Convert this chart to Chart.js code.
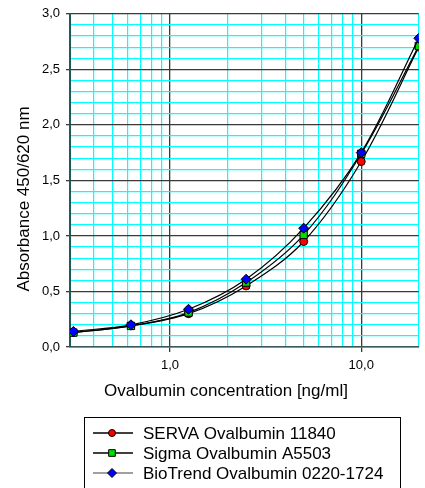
<!DOCTYPE html>
<html>
<head>
<meta charset="utf-8">
<script src="https://cdn.jsdelivr.net/npm/chart.js@4/dist/chart.umd.min.js"></script>
<style>
html,body{margin:0;padding:0;background:#fff;}
canvas{display:block;}
</style>
</head>
<body>
<canvas id="c" width="425" height="488"></canvas>
<script>
// ---- data ----
const concentrations = [0.3125, 0.625, 1.25, 2.5, 5, 10, 20];
const servaValues    = [0.13, 0.19, 0.30, 0.55, 0.95, 1.67, 2.70];
const sigmaValues    = [0.13, 0.19, 0.31, 0.58, 1.01, 1.74, 2.71];
const biotrendValues = [0.14, 0.20, 0.34, 0.61, 1.07, 1.75, 2.78];
const seriesNames = ['SERVA Ovalbumin 11840', 'Sigma Ovalbumin A5503', 'BioTrend Ovalbumin 0220-1724'];
const xTickValues = [0.3,0.4,0.5,0.6,0.7,0.8,0.9,1,2,3,4,5,6,7,8,9,10,20];
const xMajorLabels = {1:'1,0', 10:'10,0'};
const yMajorLabels = ['0,0','0,5','1,0','1,5','2,0','2,5','3,0'];
const xTitle = 'Ovalbumin concentration [ng/ml]';
const yTitle = 'Absorbance 450/620 nm';

const FONT = "'Liberation Sans', Arial, sans-serif";
const CYAN = '#00ffff';
const MAJOR = '#3a3a3a';

function pts(vals){ return concentrations.map((x,i)=>({x:x, y:vals[i]})); }
function isMajorY(v){ return Math.abs(v*2 - Math.round(v*2)) < 1e-6; }
function isMajorX(v){ return v === 1 || v === 10; }

const styles = [
  {color:'#ff0000', style:'circle', radius:4, line:'#000000'},
  {color:'#00e000', style:'rect', radius:5.2, line:'#000000'},
  {color:'#0000ff', style:'rectRot', radius:5, line:'#555555'}
];
const allVals = [servaValues, sigmaValues, biotrendValues];

const datasets = allVals.map((v,i)=>({
  label: seriesNames[i],
  data: pts(v),
  borderColor: '#000000',
  borderWidth: 1.2,
  tension: 0.35,
  pointStyle: styles[i].style,
  pointRadius: styles[i].radius,
  pointHoverRadius: styles[i].radius,
  pointBackgroundColor: styles[i].color,
  pointBorderColor: '#000000',
  pointBorderWidth: 1,
  order: 2 - i,
  fill: false
}));

const decor = {
  id: 'decor',
  afterDraw(chart){
    const ctx = chart.ctx;
    ctx.save();
    // axis titles
    ctx.fillStyle = '#000';
    ctx.font = '17px ' + FONT;
    ctx.textAlign = 'center';
    ctx.textBaseline = 'middle';
    ctx.fillText(xTitle, 226, 391);
    ctx.save();
    ctx.translate(24, 199);
    ctx.rotate(-Math.PI/2);
    ctx.fillText(yTitle, 0, 0);
    ctx.restore();
    // legend box
    ctx.strokeStyle = '#000';
    ctx.lineWidth = 1;
    ctx.strokeRect(84.5, 417.5, 316, 80);
    const rows = [433, 453, 473];
    rows.forEach((y,i)=>{
      ctx.strokeStyle = i === 2 ? '#808080' : '#000';
      ctx.lineWidth = 1.5;
      ctx.beginPath();
      ctx.moveTo(93, y); ctx.lineTo(133, y);
      ctx.stroke();
      ctx.fillStyle = styles[i].color;
      ctx.strokeStyle = '#000';
      ctx.lineWidth = 1;
      Chart.helpers.drawPoint(ctx, {pointStyle: styles[i].style, radius: styles[i].radius - 0.5, borderWidth: 1}, 112, y);
      ctx.fillStyle = '#000';
      ctx.font = '17px ' + FONT;
      ctx.textAlign = 'left';
      ctx.textBaseline = 'middle';
      ctx.fillText(seriesNames[i], 143, y + 1);
    });
    ctx.restore();
  }
};

new Chart(document.getElementById('c'), {
  type: 'line',
  data: { datasets },
  plugins: [decor],
  options: {
    responsive: false,
    animation: false,
    events: [],
    layout: { padding: { top: 11, left: 0, right: 3, bottom: 101 } },
    plugins: { legend: { display: false }, tooltip: { enabled: false } },
    scales: {
      x: {
        type: 'logarithmic',
        min: 0.3, max: 20,
        bounds: 'data',
        afterBuildTicks(scale){ scale.ticks = xTickValues.map(v=>({value:v})); },
        afterFit(scale){ scale.height = 40; },
        ticks: {
          autoSkip: false, maxRotation: 0, padding: 6,
          color: '#000',
          font: { family: FONT, size: 13 },
          callback(v){ return xMajorLabels[v] || ''; }
        },
        grid: {
          color: ctx => isMajorX(ctx.tick.value) ? MAJOR : CYAN,
          lineWidth: ctx => isMajorX(ctx.tick.value) ? 1.3 : 1.2,
          tickColor: ctx => isMajorX(ctx.tick.value) ? MAJOR : 'rgba(0,0,0,0)',
          tickLength: 5
        },
        border: { color: '#3a5a5a', width: 1.5 }
      },
      y: {
        type: 'linear',
        min: 0, max: 3,
        afterBuildTicks(scale){
          const t = [];
          for (let k = 0; k <= 30; k++) t.push({value: k/10});
          scale.ticks = t;
        },
        afterFit(scale){ scale.width = 70; },
        ticks: {
          autoSkip: false, padding: 6,
          color: '#000',
          font: { family: FONT, size: 13 },
          callback(v){ return isMajorY(v) ? yMajorLabels[Math.round(v*2)] : ''; }
        },
        grid: {
          color: ctx => isMajorY(ctx.tick.value) ? MAJOR : CYAN,
          lineWidth: ctx => isMajorY(ctx.tick.value) ? 1.3 : 1.2,
          tickColor: ctx => isMajorY(ctx.tick.value) ? MAJOR : 'rgba(0,0,0,0)',
          tickLength: 4
        },
        border: { color: '#1f5a5a', width: 2 }
      }
    }
  }
});
</script>
</body>
</html>
